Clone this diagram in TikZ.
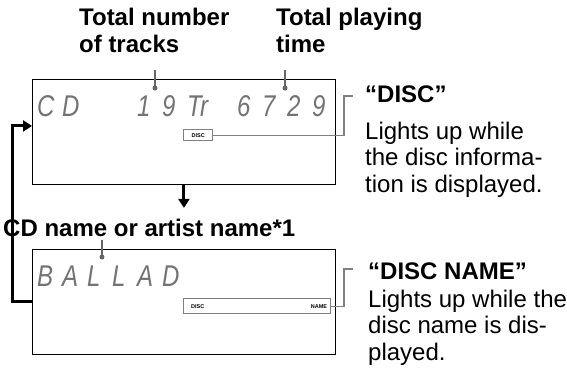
\documentclass[tikz,border=0pt]{standalone}
\usepackage{fontspec}
\setmainfont{Liberation Sans}
\usetikzlibrary{arrows.meta, positioning}

\tikzset{
  panel/.style={draw, line width=0.9pt, anchor=north west, inner sep=0pt,
    minimum width=303pt, minimum height=105pt},
  lcd/.style={anchor=west, inner sep=0pt, text=black!55,
    font=\fontsize{30}{30}\selectfont\itshape},
  lamp/.style={draw=black!50, line width=1.3pt, anchor=north west, inner sep=0pt,
    font=\fontsize{5.5}{5.5}\selectfont\bfseries},
  lamptext/.style={inner sep=0pt, font=\fontsize{5.5}{5.5}\selectfont\bfseries},
  head/.style={anchor=north west, inner sep=0pt, align=left,
    font=\fontsize{24}{27}\selectfont\bfseries},
  note/.style={anchor=north west, inner sep=0pt, align=left,
    font=\fontsize{24}{26.5}\selectfont},
  pin/.style={draw=black!60, line width=1.1pt},
  pindot/.style={circle, fill=black!60, inner sep=0pt, minimum size=5pt},
  lead/.style={draw=black!50, line width=1.3pt},
  flow/.style={line width=3pt, -{Triangle[width=11pt,length=9pt]}},
}

\begin{document}
\begin{tikzpicture}[x=1pt, y=-1pt]
  \useasboundingbox (0,0) rectangle (567,376);

  % the two displays
  \node[panel] (disp1) at (32,79) {};
  \node[panel] (disp2) at (32,249) {};

  \foreach \i/\ch in {0/C,1/D,4/1,5/9,6/Tr,8/6,9/7,10/2,11/9}
    \node[lcd] (top\i) at (37+25*\i,106) {\scalebox{0.8}[1]{\ch}};
  \foreach \i/\ch in {0/B,1/A,2/L,3/L,4/A,5/D}
    \node[lcd] (low\i) at (37+25*\i,276) {\scalebox{0.8}[1]{\ch}};

  % indicators
  \node[lamp, minimum width=29pt, minimum height=11pt] (discind) at (183,129) {DISC};
  \node[lamp, minimum width=147pt, minimum height=15pt] (nameind) at (183,298) {};
  \node[lamptext, anchor=west] (nameind-l) at ([xshift=8pt]nameind.west) {DISC};
  \node[lamptext, anchor=east] (nameind-r) at ([xshift=-4pt]nameind.east) {NAME};

  % labels
  \node[head] (tracks) at (79,8) {Total number\\of tracks};
  \node[head] (ptime) at (276,8) {Total playing\\time};
  \node[head] (cdname) at (3,219) {CD name or artist name*1};
  \node[note] (disctxt) at (365,86)
    {\textbf{“DISC”}\\[10pt]Lights up while\\the disc informa-\\tion is displayed.};
  \node[note] (nametxt) at (368,263)
    {\textbf{“DISC NAME”}\\[1pt]Lights up while the\\disc name is dis-\\played.};

  % pins
  \node[pindot] (dot1) at (155,88) {};
  \node[pindot] (dot2) at (285,88) {};
  \node[pindot] (dot3) at (102,257) {};
  \coordinate (pin1) at (155,70);
  \coordinate (pin2) at (285,70);
  \coordinate (pin3) at (102,240);
  \draw[pin] (pin1) -- (dot1.center);
  \draw[pin] (pin2) -- (dot2.center);
  \draw[pin] (pin3) -- (dot3.center);

  % leaders
  \coordinate (lead1) at (353,96);
  \coordinate (lead2) at (353,269);
  \draw[lead] (discind.east) -| ([xshift=-9pt]lead1) -- (lead1);
  \draw[lead] (nameind.east) -| ([xshift=-9pt]lead2) -- (lead2);

  % flow arrows
  \coordinate (down) at ([yshift=-23pt]disp1.south);
  \draw[flow] (disp1.south) -- (down);
  \draw[flow] (disp2.west) -- ++(-20,0) |- ([yshift=6pt]disp1.west);
\end{tikzpicture}
\end{document}
